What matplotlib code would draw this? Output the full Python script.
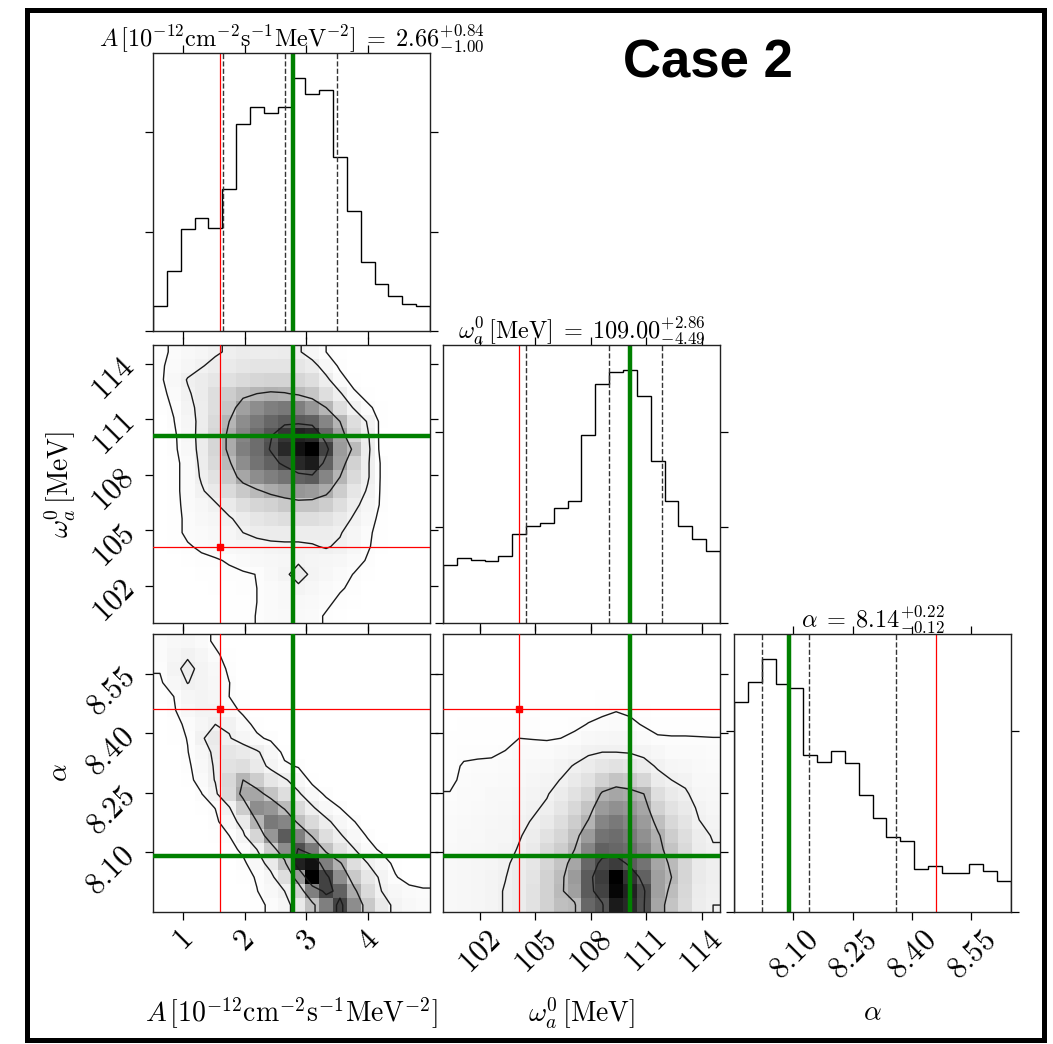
import numpy as np
import matplotlib
matplotlib.use("Agg")
import matplotlib.pyplot as plt
from matplotlib.colors import LinearSegmentedColormap, PowerNorm
from matplotlib.ticker import MultipleLocator
from matplotlib.patches import Rectangle

plt.rcParams['mathtext.fontset'] = 'cm'
plt.rcParams['font.family'] = ['DejaVu Serif']

# ---------------------------------------------------------------- parameters
labels = [r'$A\,[10^{-12}\mathrm{cm}^{-2}\mathrm{s}^{-1}\mathrm{MeV}^{-2}]$',
          r'$\omega_a^0\,[\mathrm{MeV}]$',
          r'$\alpha$']
ranges = [(0.52, 5.0), (100.0, 115.0), (7.95, 8.65)]
tick_values = [[1, 2, 3, 4], [102, 105, 108, 111, 114], [8.10, 8.25, 8.40, 8.55]]
tick_labels = [['1', '2', '3', '4'],
               ['102', '105', '108', '111', '114'],
               ['8.10', '8.25', '8.40', '8.55']]

truths = [1.6, 104.1, 8.46]          # injected values (red)
best_fit = [2.79, 110.1, 8.09]       # best-fit point (green)
medians = [2.66, 109.00, 8.14]
err_lo = [1.00, 4.49, 0.12]
err_hi = [0.84, 2.86, 0.22]

# ---------------------------------------------------------------- 1D marginals
hist_A = [252, 602, 1025, 1133, 1039, 1425, 2081, 2252, 2192, 2252,
          2541, 2380, 2424, 1748, 1207, 689, 471, 350, 276, 249]
hist_omega = [609, 676, 658, 648, 704, 935, 1016, 1047, 1201, 1278,
              1972, 2497, 2623, 2644, 2378, 1699, 1278, 1019, 883, 750]
hist_alpha = [1156, 1269, 1394, 1259, 1233, 865, 830, 889, 824, 648,
              517, 411, 393, 239, 256, 217, 217, 267, 224, 170]

# ---------------------------------------------------------------- 2D marginals
# relative density per bin, rows listed from the top of the panel down
dens_A_omega = [
    [2.5, 5, 7, 9, 11, 13, 15, 14, 14, 15, 13, 8, 4, 2, 1, .5, .5, .5, .5, .5],
    [3, 6, 9, 11.5, 14, 16, 18, 19, 19, 19, 18, 15, 8, 3, 1, .5, .5, .5, .5, .5],
    [3, 7, 12.5, 15, 18, 21, 24, 26, 27, 27, 26, 22, 14, 6, 2, 1, .5, .5, .5, .5],
    [2.5, 5.5, 11, 15, 22, 30, 36, 40, 42, 41, 38, 33, 22, 13, 5, 2, 1, .5, .5, .5],
    [2, 4.5, 10, 14, 22, 33, 48, 55, 60, 62, 60, 52, 40, 22, 11, 5, 2, 1, .5, .5],
    [1.5, 3.8, 9, 14, 24, 40, 55, 62, 68, 72, 72, 70, 58, 40, 22, 11, 2, 1, .5, .5],
    [1, 3, 8, 15, 26, 44, 58, 66, 74, 84, 90, 88, 68, 48, 26, 13, 1.5, .5, .5, .5],
    [1, 3, 7, 15, 26, 44, 60, 66, 76, 88, 95, 100, 80, 50, 38, 14, 1.5, .5, .5, .5],
    [1, 2.5, 6, 14, 24, 38, 55, 64, 70, 78, 88, 92, 70, 48, 28, 13, 3, .5, .5, .5],
    [1, 2.5, 6, 13, 20, 32, 46, 55, 60, 64, 70, 72, 58, 40, 24, 13, 3, .5, .5, .5],
    [1, 2.5, 6, 11, 16, 24, 32, 38, 44, 48, 52, 50, 44, 30, 18, 11, 3, .5, .5, .5],
    [1, 2.5, 5.5, 8, 11, 16, 22, 26, 28, 32, 34, 34, 30, 22, 14, 9, 3, .5, .5, .5],
    [1, 2.5, 5, 7, 9, 11, 15, 18, 20, 22, 22, 22, 20, 16, 11, 7, 2, .5, .5, .5],
    [1, 2.5, 5, 6, 7, 9, 12, 14, 15, 15, 14, 14, 14, 12.5, 9, 5, 2, .5, .5, .5],
    [.5, 2, 3.5, 4.8, 6, 7, 8, 9, 10, 10.5, 11, 11.5, 12.5, 11, 8, 4.5, 2, .5, .5, .5],
    [.5, 1.5, 2.5, 3, 3.5, 4.5, 6, 7, 8, 8.5, 10.5, 9.5, 9, 8, 6, 3.5, 1.5, .5, .5, .5],
    [.3, 1, 1.5, 2, 2.5, 3, 3.4, 4.1, 7, 10, 16, 10, 8, 6, 3.8, 2, 1, .3, .3, .3],
    [.3, .8, 1.2, 1.5, 2, 2.5, 3, 4, 6, 7, 10, 8, 6, 4.5, 3, 1.5, .8, .3, .3, .3],
    [.3, .6, 1, 1.2, 1.5, 2, 2.5, 4, 6, 7, 7.5, 6.5, 5, 3, 2, 1, .5, .3, .3, .3],
    [.2, .5, .8, 1, 1.3, 1.8, 2.5, 4.2, 6, 6.5, 6.5, 5.5, 3.5, 2, 1.2, .8, .3, .3, .3, .3],
]

dens_A_alpha = [
    [5, 7, 8, 6, 3, 1.5, .8, .5, .3, .3, .3, .3, .3, .3, .3, .3, .3, .3, .3, .3],
    [5, 9, 11, 9, 5, 2, 1, .5, .3, .3, .3, .3, .3, .3, .3, .3, .3, .3, .3, .3],
    [4.5, 10, 14, 10, 7, 3, 1.2, .5, .3, .3, .3, .3, .3, .3, .3, .3, .3, .3, .3, .3],
    [3, 8, 12.2, 10, 8, 4.1, 1.5, .5, .3, .3, .3, .3, .3, .3, .3, .3, .3, .3, .3, .3],
    [2, 4, 9, 10, 9, 4, 2, .8, .3, .3, .3, .3, .3, .3, .3, .3, .3, .3, .3, .3],
    [1.5, 3.5, 7, 10, 10, 6, 3, 1.2, .6, .3, .3, .3, .3, .3, .3, .3, .3, .3, .3, .3],
    [1, 2.5, 5, 9, 12, 11, 6, 2.5, 1, .3, .3, .3, .3, .3, .3, .3, .3, .3, .3, .3],
    [.8, 2, 4.2, 11, 16, 12.5, 9, 5, 3, .8, .3, .3, .3, .3, .3, .3, .3, .3, .3, .3],
    [.5, 1.5, 3.8, 8, 14, 18, 16, 13, 8, 2.5, 1, .3, .3, .3, .3, .3, .3, .3, .3, .3],
    [.4, 1, 3, 7, 13, 20, 22, 16, 10, 5, 3.5, 1, .3, .3, .3, .3, .3, .3, .3, .3],
    [.3, .8, 2.5, 6, 12.5, 25, 40, 30, 18, 13, 8, 2.5, 1, .3, .3, .3, .3, .3, .3, .3],
    [.3, .5, 1.5, 3.8, 10, 24, 45, 46, 34, 22, 13, 7, 3, 1, .3, .3, .3, .3, .3, .3],
    [.3, .4, 1, 2.5, 4.1, 11, 30, 55, 52, 38, 24, 13, 7, 4, 1, .3, .3, .3, .3, .3],
    [.3, .3, .6, 1.5, 3, 7, 16, 40, 62, 58, 36, 24, 14, 8, 4.2, 1.5, .5, .3, .3, .3],
    [.3, .3, .4, 1, 2, 4, 10, 26, 52, 72, 60, 38, 22, 13, 7, 3.5, 1, .3, .3, .3],
    [.3, .3, .3, .5, 1.2, 2.5, 5, 12, 30, 55, 76, 62, 35, 20, 12.5, 6, 3, 1, .5, .3],
    [.3, .3, .3, .3, .8, 1.5, 3, 7, 16, 35, 90, 95, 60, 42, 22, 12, 7, 2.5, .8, .3],
    [.3, .3, .3, .3, .5, 1, 2, 4.5, 9, 22, 50, 100, 80, 55, 32, 18, 10, 4.5, 1.5, .5],
    [.3, .3, .3, .3, .4, .8, 1.5, 3.8, 7, 12, 28, 60, 80, 70, 44, 24, 12, 8, 6, 5],
    [.3, .3, .3, .3, .3, .5, 1, 2.5, 5, 9, 16, 35, 60, 80, 55, 32, 16, 10, 7, 5.5],
]

# omega (columns) vs alpha (rows), listed column by column from low omega
dens_omega_alpha_cols = [
    [.3, .3, .4, .5, .7, 1, 1.3, 1.7, 2.2, 2.6, 3, 4.2, 5, 5.5, 6, 6.5, 7, 7, 7, 7],
    [.3, .3, .4, .5, .8, 1.2, 1.7, 2.3, 3, 4.5, 5, 5.5, 6, 6.5, 7, 7.5, 8, 8, 8, 8],
    [.3, .3, .4, .5, .8, 1.3, 1.8, 2.5, 3.2, 4.8, 5.5, 6, 6.5, 7, 7.5, 8, 8.5, 9, 9, 9],
    [.3, .3, .4, .6, .9, 1.4, 2, 2.7, 3.3, 5, 6, 7, 7.5, 8, 8.5, 9, 9.5, 10, 10, 10],
    [.3, .3, .4, .6, 1, 1.5, 2, 2.5, 4.2, 5.5, 6.5, 7.5, 8, 8.5, 9, 10, 11, 11.8, 12.5, 12.5],
    [.3, .3, .4, .6, 1.2, 2, 3, 4, 5.5, 6.5, 7.5, 8.5, 9.5, 10.5, 11.5, 12.5, 14, 15, 15, 15],
    [.3, .3, .4, .6, 1.2, 2, 3, 3.8, 6, 7.5, 9, 10, 11, 12.5, 14, 16, 18, 19, 20, 20],
    [.3, .3, .4, .6, 1, 1.8, 2.5, 3.6, 6, 8, 10, 11.5, 13, 16, 20, 24, 26, 28, 28, 28],
    [.3, .3, .4, .6, 1, 1.8, 2.5, 4, 7, 10, 12.2, 15, 18, 22, 26, 30, 34, 37, 38, 36],
    [.3, .3, .4, .6, 1.2, 2, 3, 5, 9, 12.5, 16, 20, 25, 30, 35, 40, 46, 50, 48, 38],
    [.3, .3, .5, .8, 1.5, 2.5, 4.2, 7, 11, 15, 20, 26, 34, 41, 50, 58, 68, 72, 72, 68],
    [.3, .3, .5, .9, 2, 3.2, 5, 8, 12, 18, 28, 42, 50, 58, 64, 70, 78, 82, 80, 74],
    [.3, .3, .5, 1, 2.5, 3.8, 6, 9, 12, 20, 34, 46, 54, 62, 66, 68, 82, 100, 98, 92],
    [.3, .3, .5, .9, 2, 3.2, 5, 8, 11.5, 18, 32, 44, 52, 58, 62, 66, 72, 85, 90, 88],
    [.3, .3, .4, .8, 1.5, 2.5, 3.6, 6, 10, 15, 26, 40, 46, 50, 54, 58, 64, 70, 77, 76],
    [.3, .3, .4, .7, 1, 1.5, 2.5, 4.5, 8, 11, 15, 22, 28, 36, 42, 44, 46, 48, 48, 46],
    [.3, .3, .4, .7, 1, 1.5, 2.5, 4.3, 6, 9, 12, 16, 20, 25, 30, 34, 38, 40, 37, 34],
    [.3, .3, .4, .7, 1, 1.5, 2.5, 4.3, 6, 8, 10.5, 13, 16, 19, 22, 24, 26, 26, 25, 24],
    [.3, .3, .4, .7, 1, 1.5, 2.5, 4.2, 5.5, 6.5, 7.5, 9, 10.5, 12.2, 14, 15, 16, 16, 15, 14],
    [.3, .3, .4, .7, 1, 1.5, 2.5, 4.1, 5, 6, 7, 8, 9, 10, 11.5, 12.5, 13, 13, 12.5, 12],
]

contour_levels = [4, 12, 40, 75]

hists = [hist_A, hist_omega, hist_alpha]
grids = {
    (1, 0): np.array(dens_A_omega, dtype=float)[::-1],
    (2, 0): np.array(dens_A_alpha, dtype=float)[::-1],
    (2, 1): np.array(dens_omega_alpha_cols, dtype=float).T[::-1],
}

# ---------------------------------------------------------------- layout
W, H = 1053, 1044
fig = plt.figure(figsize=(W / 100, H / 100), dpi=100)
col_x = [153, 443, 734]
row_y = [53, 345, 634]
pw, ph = 277, 278

density_cmap = LinearSegmentedColormap.from_list('density', ['white', 'black'])
green = '#008000'
FS_LABEL = 20
FS_TICK = 22
FS_TITLE = 17.5


def axes_at(i, j):
    return fig.add_axes([col_x[j] / W, 1 - (row_y[i] + ph) / H, pw / W, ph / H])


def style(ax):
    ax.tick_params(direction='out', length=6, width=0.9, top=True, right=True,
                   labelbottom=False, labelleft=False, labelsize=FS_TICK, pad=3)
    for s in ax.spines.values():
        s.set_linewidth(1.0)
        s.set_color('#222222')


for i in range(3):
    for j in range(i + 1):
        ax = axes_at(i, j)
        style(ax)
        lo, hi = ranges[j]
        xe = np.linspace(lo, hi, 21)
        if i == j:
            counts = np.array(hists[i], dtype=float)
            ax.stairs(counts, xe, color='k', lw=1.0)
            m = medians[i]
            for q in (m - err_lo[i], m, m + err_hi[i]):
                ax.axvline(q, ls='--', color='#333333', lw=1.0)
            ax.axvline(truths[i], color='red', lw=0.9)
            ax.axvline(best_fit[i], color=green, lw=3.2)
            ax.set_xlim(lo, hi)
            ax.set_ylim(0, 1.1 * counts.max())
            ax.yaxis.set_major_locator(MultipleLocator(1000))
            title = (labels[i][:-1] + r'\;=\;%.2f^{+%.2f}_{-%.2f}$'
                     % (medians[i], err_hi[i], err_lo[i]))
            ax.annotate(title, xy=(0.5, 1.0), xycoords='axes fraction',
                        xytext=(0, 5), textcoords='offset points',
                        ha='center', va='baseline', fontsize=FS_TITLE)
        else:
            ylo, yhi = ranges[i]
            ye = np.linspace(ylo, yhi, 21)
            g = grids[(i, j)]
            ax.pcolormesh(xe, ye, g, cmap=density_cmap,
                          norm=PowerNorm(1.35, vmin=0, vmax=g.max()),
                          shading='flat', zorder=0)
            xc = 0.5 * (xe[1:] + xe[:-1])
            yc = 0.5 * (ye[1:] + ye[:-1])
            dx, dy = xe[1] - xe[0], ye[1] - ye[0]
            xc2 = np.concatenate([[xc[0] - dx], xc, [xc[-1] + dx]])
            yc2 = np.concatenate([[yc[0] - dy], yc, [yc[-1] + dy]])
            ax.contour(xc2, yc2, np.pad(g, 1, mode='edge'), levels=contour_levels,
                       colors='#1a1a1a', linewidths=1.0, zorder=2)
            ax.axvline(truths[j], color='red', lw=0.9, zorder=3)
            ax.axhline(truths[i], color='red', lw=0.9, zorder=3)
            ax.plot(truths[j], truths[i], 's', color='red', ms=4, zorder=4)
            ax.axvline(best_fit[j], color=green, lw=3.2, zorder=5)
            ax.axhline(best_fit[i], color=green, lw=3.2, zorder=5)
            ax.set_xlim(lo, hi)
            ax.set_ylim(ylo, yhi)
            ax.set_yticks(tick_values[i])
            if j == 0:
                ax.set_yticklabels(['$%s$' % t for t in tick_labels[i]],
                                   rotation=45, fontsize=FS_TICK)
                ax.tick_params(labelleft=True)
        ax.set_xticks(tick_values[j])
        if i == 2:
            ax.set_xticklabels(['$%s$' % t for t in tick_labels[j]],
                               rotation=45, fontsize=FS_TICK)
            ax.tick_params(labelbottom=True)

# axis labels
for j, cx in enumerate(col_x):
    fig.text((cx + pw / 2) / W, 1 - 1013 / H, labels[j], fontsize=FS_LABEL,
             ha='center', va='center')
for i in (1, 2):
    fig.text(60 / W, 1 - (row_y[i] + ph / 2) / H, labels[i], fontsize=FS_LABEL,
             ha='center', va='center', rotation=90)

fig.text(708 / W, 1 - 63 / H, 'Case 2', fontsize=38, fontweight='bold',
         family='Liberation Sans', ha='center', va='center')

fig.patches.append(Rectangle((26.5 / W, 1 - 1039.5 / H), 1017 / W, 1030 / H,
                             transform=fig.transFigure, fill=False, lw=3.6,
                             ec='black'))

fig.savefig('out.png', dpi=100)
